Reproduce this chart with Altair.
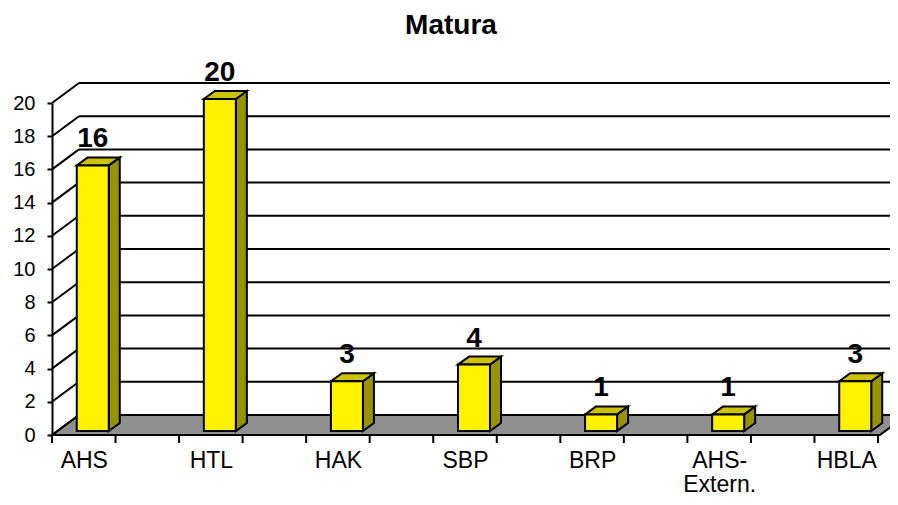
import json
import altair as alt
import pandas as pd

# ---- data ----
categories = ["AHS", "HTL", "HAK", "SBP", "BRP", "AHS-Extern.", "HBLA"]
values = [16, 20, 3, 4, 1, 1, 3]
label_lines = [["AHS"], ["HTL"], ["HAK"], ["SBP"], ["BRP"], ["AHS-", "Extern."], ["HBLA"]]
y_ticks = [0, 2, 4, 6, 8, 10, 12, 14, 16, 18, 20]
x_tick_slots = list(range(0, 14))

# ---- layout constants (pixels) ----
W, H = 826, 332
XMAX, YMAX = 13, 20
ppx, ppy = W / XMAX, H / YMAX
DEPTH_DX, DEPTH_DY = 27, 20      # offset of the back wall
BAR_DX, BAR_DY = 9, 4            # bar front face offset from the front edge
SIDE_DX, SIDE_DY = 11, 8         # bar depth
BAR_W = 32

FONT = "Liberation Sans"
YELLOW, TOP, SIDE, FLOOR = "#FFF100", "#CCC200", "#989300", "#8F8F8F"

pos = [2 * i + 0.5 for i in range(len(categories))]

bars = pd.DataFrame({"name": categories, "v": values, "p": pos})
bars["xl"] = bars["p"] + (BAR_DX - BAR_W / 2) / ppx
bars["xr"] = bars["xl"] + BAR_W / ppx
bars["xc"] = (bars["xl"] + bars["xr"]) / 2
bars["y0"] = BAR_DY / ppy
bars["y1"] = bars["v"] + bars["y0"]

side_rows, top_rows = [], []
for r in bars.to_dict("records"):
    side_rows.append({"name": r["name"], "x": r["xr"], "ya": r["y1"], "yb": r["y0"]})
    side_rows.append({"name": r["name"], "x": r["xr"] + SIDE_DX / ppx,
                      "ya": r["y1"] + SIDE_DY / ppy, "yb": r["y0"] + SIDE_DY / ppy})
    top_rows.append({"name": r["name"], "y": r["y1"], "xa": r["xl"], "xb": r["xr"]})
    top_rows.append({"name": r["name"], "y": r["y1"] + SIDE_DY / ppy,
                     "xa": r["xl"] + SIDE_DX / ppx, "xb": r["xr"] + SIDE_DX / ppx})
side = pd.DataFrame(side_rows)
top = pd.DataFrame(top_rows)

floor = pd.DataFrame({
    "y": [0, DEPTH_DY / ppy],
    "xa": [0, DEPTH_DX / ppx],
    "xb": [XMAX + 0.03, XMAX + 0.03 + DEPTH_DX / ppx],
})
grid = pd.DataFrame({"v": y_ticks[1:]})
grid["y"] = grid["v"] + DEPTH_DY / ppy
grid["xa"] = DEPTH_DX / ppx
grid["xb"] = XMAX + 1
diag = pd.DataFrame({"v": y_ticks})
diag["x"] = 0.0
diag["x2"] = DEPTH_DX / ppx
diag["y2"] = diag["v"] + DEPTH_DY / ppy
ticks = pd.DataFrame({"t": x_tick_slots})

xs = alt.Scale(domain=[0, XMAX], nice=False, zero=False)
ys = alt.Scale(domain=[0, YMAX], nice=False, zero=False)

label_expr = json.dumps(label_lines) + "[round((datum.value - 0.5) / 2)]"

x_axis = alt.Axis(values=pos, labelExpr=label_expr, ticks=False, tickSize=0,
                  domain=False, grid=False, title=None, labelAngle=0,
                  labelFont=FONT, labelFontSize=23, labelColor="black",
                  labelBaseline="alphabetic", labelPadding=32,
                  labelLineHeight=24, labelOverlap=False, labelBound=False)
y_axis = alt.Axis(values=y_ticks, tickSize=5, tickWidth=2, tickColor="black",
                  domainColor="black", domainWidth=2, grid=False, title=None,
                  labelFont=FONT, labelFontSize=20, labelColor="black",
                  labelPadding=12)


def X(field):
    return alt.X(field, scale=xs, axis=x_axis, title=None)


def Y(field):
    return alt.Y(field, scale=ys, axis=y_axis, title=None)


floor_layer = alt.Chart(floor).mark_area(
    orient="horizontal", color=FLOOR, stroke="black", strokeWidth=2
).encode(y=Y("y:Q"), x=X("xa:Q"), x2="xb:Q")

grid_layer = alt.Chart(grid).mark_rule(color="black", strokeWidth=2).encode(
    y=Y("y:Q"), x=X("xa:Q"), x2="xb:Q"
)

diag_layer = alt.Chart(diag).mark_rule(color="black", strokeWidth=2).encode(
    x=X("x:Q"), x2="x2:Q", y=Y("v:Q"), y2="y2:Q"
)

side_layer = alt.Chart(side).mark_area(
    color=SIDE, stroke="black", strokeWidth=2
).encode(x=X("x:Q"), y=Y("ya:Q"), y2="yb:Q", detail="name:N")

top_layer = alt.Chart(top).mark_area(
    orient="horizontal", color=TOP, stroke="black", strokeWidth=2
).encode(y=Y("y:Q"), x=X("xa:Q"), x2="xb:Q", detail="name:N")

front_layer = alt.Chart(bars).mark_bar(
    color=YELLOW, stroke="black", strokeWidth=2
).encode(x=X("xl:Q"), x2="xr:Q", y=Y("y1:Q"), y2="y0:Q")

label_layer = alt.Chart(bars).mark_text(
    font=FONT, fontSize=28, fontWeight="bold", color="black",
    baseline="alphabetic", dy=-18
).encode(x=X("xc:Q"), y=Y("y1:Q"), text="v:Q")

tick_layer = alt.Chart(ticks).mark_rule(color="black", strokeWidth=2).encode(
    x=X("t:Q"), y=alt.value(H), y2=alt.value(H + 8)
)

chart = alt.layer(
    floor_layer, grid_layer, diag_layer, side_layer, top_layer,
    front_layer, label_layer, tick_layer
).properties(
    width=W, height=H,
    autosize=alt.AutoSizeParams(type="none"),
    padding={"left": 44, "top": 95, "right": 12, "bottom": 62},
    background="white",
    title=alt.TitleParams("Matura", font=FONT, fontSize=28, fontWeight="bold",
                          color="black", anchor="middle", dx=-14, offset=19),
).configure_view(strokeWidth=0)

chart.save("out.html", embed_options={"renderer": "svg", "actions": False})
